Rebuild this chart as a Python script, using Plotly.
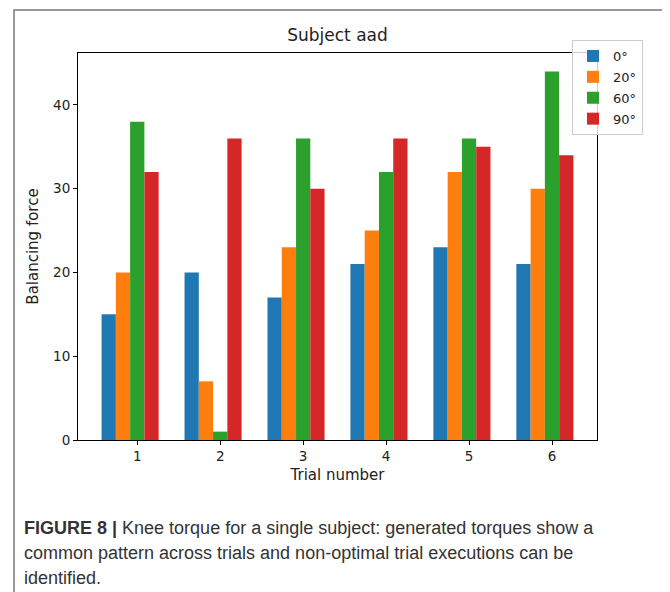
import plotly.graph_objects as go

W, H = 670, 592
OFF = 8  # page body margin shifts the figure by this much
L, R, T, B = 78 - OFF, 597 - OFF, 53 - OFF, 440 - OFF  # plot area in px

trials = [1, 2, 3, 4, 5, 6]
angles = ["0°", "20°", "60°", "90°"]
force_0 = [15, 20, 17, 21, 23, 21]
force_20 = [20, 7, 23, 25, 32, 30]
force_60 = [38, 1, 36, 32, 36, 44]
force_90 = [32, 36, 30, 36, 35, 34]
series = [force_0, force_20, force_60, force_90]
colors = ["#1f77b4", "#ff7f0e", "#2ca02c", "#d62728"]

BAR_W = 0.172


def px_x(p):
    return (p - OFF - L) / (R - L)


def px_y(p):
    return (B - (p - OFF)) / (B - T)


fig = go.Figure()
for i, (name, vals, c) in enumerate(zip(angles, series, colors)):
    fig.add_trace(go.Bar(
        x=trials, y=vals, name=name, legendgroup=name,
        width=BAR_W, offset=(i - 2) * BAR_W - BAR_W / 2,
        marker=dict(color=c, line_width=0),
    ))

left_edge = trials[0] - 2.5 * BAR_W
right_edge = trials[-1] + 1.5 * BAR_W
pad = 0.05 * (right_edge - left_edge)
ymax = max(max(s) for s in series) * 1.05

axis_common = dict(showline=True, linecolor="black", linewidth=1, mirror=True,
                   ticks="outside", ticklen=4, tickcolor="black",
                   showgrid=False, zeroline=False,
                   tickfont=dict(family="DejaVu Sans", size=13.5, color="#222"))

fig.update_xaxes(range=[left_edge - pad, right_edge + pad], tickvals=trials,
                 title=dict(text="Trial number", standoff=6,
                            font=dict(family="DejaVu Sans", size=15, color="#222")),
                 **axis_common)
fig.update_yaxes(range=[0, ymax], tickvals=[0, 10, 20, 30, 40],
                 title=dict(text="Balancing force", standoff=10,
                            font=dict(family="DejaVu Sans", size=15, color="#222")),
                 **axis_common)

# outer figure frame
fig.add_shape(type="rect", xref="paper", yref="paper",
              x0=px_x(14), x1=px_x(668), y0=px_y(610), y1=px_y(10),
              line=dict(color="#777777", width=1.5), fillcolor="rgba(0,0,0,0)")

caption = [
    "<b>FIGURE 8 |</b> Knee torque for a single subject: generated torques show a",
    "common pattern across trials and non-optimal trial executions can be",
    "identified.",
]
for line, yc in zip(caption, [528, 553, 578]):
    fig.add_annotation(text=line, xref="paper", yref="paper",
                       x=px_x(22), y=px_y(yc), xanchor="left", yanchor="middle",
                       showarrow=False, align="left",
                       font=dict(family="Liberation Sans", size=18, color="#333"))

fig.update_layout(
    width=W, height=H,
    margin=dict(l=L, r=W - R, t=T, b=H - B),
    paper_bgcolor="white", plot_bgcolor="white",
    barmode="overlay",
    title=dict(text="Subject aad", x=px_x((78 + 597) / 2), xref="paper",
               xanchor="center", y=1 - (35 - OFF) / H, yref="container", yanchor="middle",
               font=dict(family="DejaVu Sans", size=17, color="#222")),
    legend=dict(x=px_x(572), y=px_y(40), xanchor="left", yanchor="top",
                bgcolor="rgba(255,255,255,0.8)", bordercolor="#cccccc", borderwidth=1,
                font=dict(family="DejaVu Sans", size=13, color="#222"),
                traceorder="grouped", tracegroupgap=1),
    showlegend=True,
)

fig.write_html("out.html")
